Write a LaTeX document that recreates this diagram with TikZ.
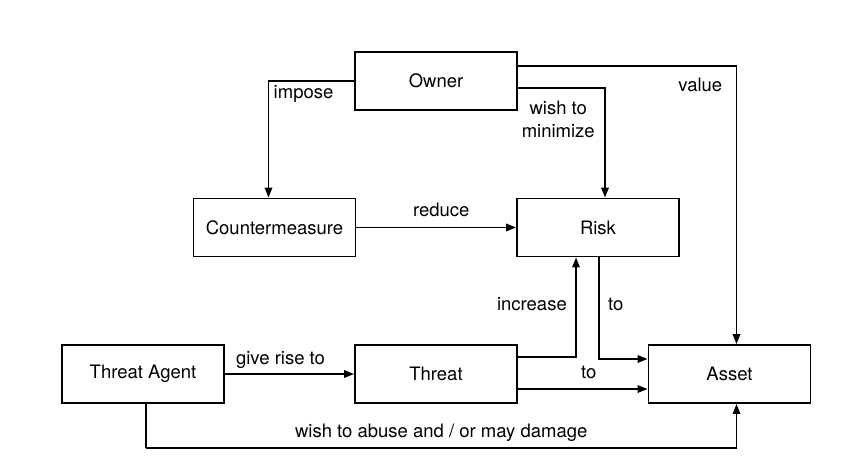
\documentclass[tikz,border=0pt]{standalone}
\usepackage{fontspec}
\setmainfont{TeX Gyre Heros}
\usetikzlibrary{arrows.meta}
\begin{document}
\begin{tikzpicture}[
		x=1pt, y=-1pt, >={Triangle[length=10pt,width=7.5pt]}, line width=1.8pt,
		font=\fontsize{18.5}{23}\selectfont,
		blocco/.style={draw, line width=1.9pt, minimum width=162pt, minimum height=58pt, inner sep=0pt},
		legame/.style={->, line width=1.8pt, black}]
	
	\useasboundingbox (0,0) rectangle (850,472);
	
	%% --- blocchi ---
	\node[blocco] (owner)  at (436,81)      {Owner};
	\node[blocco] (cm)     at (274.5,227.5) {Countermeasure};
	\node[blocco] (risk)   at (598,227.5)   {Risk};
	\node[blocco] (ta)     at (143,374)     {Threat Agent};
	\node[blocco] (threat) at (436,374)     {Threat};
	\node[blocco] (asset)  at (729.5,374)   {Asset};
	
	%% --- dal proprietario ---
	\draw[legame] (owner.west) -| node[pos=0.5, below right, xshift=1pt] {impose} ([xshift=-6pt]cm.north);
	\draw[legame] ([yshift=15pt]owner.east) -| node[pos=0.5, below left, xshift=-10pt, yshift=-8pt] {value} ([xshift=7pt]asset.north);
	\draw[legame] ([yshift=-7pt]owner.east) -| node[pos=0.5, below left, align=center, xshift=-6pt, yshift=-9pt] {wish to\\minimize} ([xshift=7pt]risk.north);
	
	%% --- riga centrale ---
	\draw[legame] (cm.east) -- node[midway, above, xshift=5pt, yshift=6pt] {reduce} (risk.west);
	
	%% --- riga inferiore ---
	\draw[legame] (ta.east) -- node[midway, above, xshift=-9pt, yshift=1pt] {give rise to} (threat.west);
	\draw[legame] ([yshift=17pt]threat.east) -| node[pos=0.75, left, xshift=-5pt, yshift=3pt] {increase} ([xshift=-22pt]risk.south);
	\draw[legame] ([xshift=1pt]risk.south) |- node[pos=0.25, right, xshift=5pt, yshift=4pt] {to} ([yshift=15pt]asset.west);
	\draw[legame] ([yshift=-15pt]threat.east) -- node[midway, above, xshift=6pt, yshift=6pt] {to} ([yshift=-15pt]asset.west);
	
	%% --- agente -> bene (sotto) ---
	\coordinate (danno) at ([xshift=3pt, yshift=-44pt]ta.south);
	\draw[line width=1.8pt] ([xshift=3pt]ta.south) -- (danno);
	\draw[legame] (danno) -| node[pos=0.25, above, yshift=2pt] {wish to abuse and / or may damage} ([xshift=7pt]asset.south);
	
\end{tikzpicture}
\end{document}
